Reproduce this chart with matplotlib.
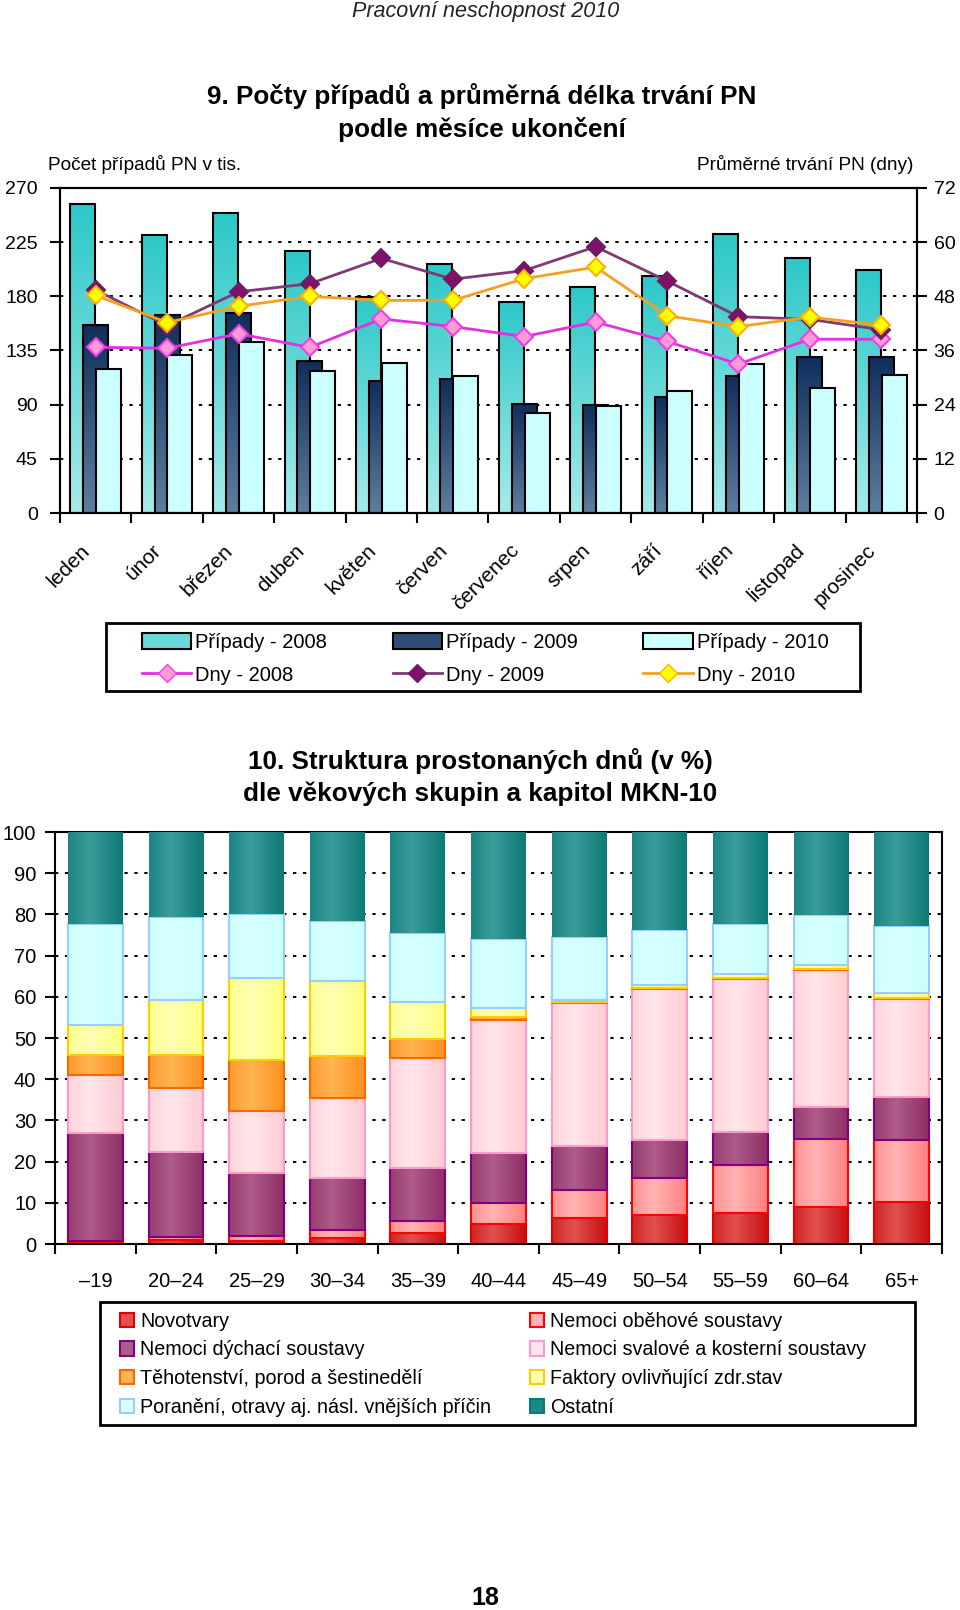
import numpy as np
import matplotlib
matplotlib.use('Agg')
import matplotlib.pyplot as plt
from matplotlib.patches import Patch, Rectangle
from matplotlib.lines import Line2D
from matplotlib.colors import to_rgb
from matplotlib.transforms import ScaledTranslation

plt.rcParams['font.family'] = ['Liberation Sans', 'DejaVu Sans']

# --- graf 9: počty případů (tis.) a průměrná délka trvání PN (dny) ---
months = ['leden', 'únor', 'březen', 'duben', 'květen', 'červen',
          'červenec', 'srpen', 'září', 'říjen', 'listopad', 'prosinec']
cases_2008 = [257, 231, 249.5, 218, 179.5, 207, 175.6, 187.8, 197, 231.7, 211.7, 201.7]
cases_2009 = [156, 164.5, 166, 126, 109.6, 111, 90.7, 90, 96, 113.8, 130, 130]
cases_2010 = [120, 131, 142, 118, 124.3, 113.5, 82.7, 88.5, 101, 123.8, 103.5, 115]
days_2008 = [36.7, 36.5, 39.7, 36.7, 43.0, 41.3, 39.1, 42.3, 38.0, 33.0, 38.5, 38.5]
days_2009 = [49.4, 41.5, 49.0, 50.8, 56.4, 51.8, 53.7, 59.0, 51.4, 43.5, 42.9, 40.6]
days_2010 = [48.2, 42.2, 45.8, 48.0, 47.1, 47.1, 51.9, 54.5, 43.7, 41.3, 43.4, 41.6]

# --- graf 10: struktura prostonaných dnů (%) ---
age_groups = ['–19', '20–24', '25–29', '30–34', '35–39', '40–44',
              '45–49', '50–54', '55–59', '60–64', '65+']
novotvary = [0.3, 1.0, 0.8, 1.4, 2.7, 4.8, 6.4, 7.1, 7.6, 9.1, 10.1]
obehove = [0.4, 0.8, 1.2, 1.9, 3.0, 5.1, 6.7, 8.8, 11.5, 16.5, 15.1]
dychaci = [26.2, 20.5, 15.2, 12.7, 12.7, 12.2, 10.6, 9.3, 8.1, 7.7, 10.6]
svalove = [14.2, 15.5, 15.0, 19.4, 26.8, 32.2, 34.8, 36.8, 37.2, 33.3, 23.7]
tehotenstvi = [4.7, 8.0, 12.4, 10.3, 4.6, 0.7, 0.2, 0.2, 0.2, 0.2, 0.2]
faktory = [7.4, 13.4, 20.0, 18.1, 9.0, 2.2, 0.6, 0.6, 0.9, 0.8, 1.3]
poraneni = [24.5, 20.2, 15.4, 14.7, 16.7, 16.8, 15.1, 13.4, 12.2, 12.2, 16.2]
ostatni = [22.3, 20.6, 20.0, 21.5, 24.5, 26.0, 25.6, 23.8, 22.3, 20.2, 22.8]


def gradient_bars(ax, bars, c_a, c_b, z, direction='v'):
    """Překryje sloupce gradientem (v = shora tmavší, h = okraje tmavší)."""
    a, b = np.array(to_rgb(c_a)), np.array(to_rgb(c_b))
    t = np.linspace(0, 1, 64)
    if direction == 'v':
        img = (b[None, :] * (1 - t[:, None]) + a[None, :] * t[:, None])[:, None, :]
    else:
        f = np.clip(1 - np.abs(t - 0.4) / 0.6, 0, 1)
        img = (a[None, :] * (1 - f[:, None]) + b[None, :] * f[:, None])[None, :, :]
    for p in bars:
        x0, y0, w, h = p.get_x(), p.get_y(), p.get_width(), p.get_height()
        if h <= 0:
            continue
        ax.imshow(img, extent=(x0, x0 + w, y0, y0 + h), origin='lower',
                  aspect='auto', interpolation='bilinear', zorder=z)


def style_grid(ax):
    ax.grid(axis='y', color='black', linewidth=1.4, linestyle=(0, (1.7, 3.4)), zorder=0.5)
    ax.grid(axis='x', visible=False)
    ax.set_axisbelow(True)
    for s in ax.spines.values():
        s.set_linewidth(1.5)


def box(fig, x0, y0, x1, y1):
    """Rámeček legendy v pixelech (od levého horního rohu)."""
    fig.patches.append(Rectangle((x0 / 960, 1 - y1 / H), (x1 - x0) / 960, (y1 - y0) / H,
                                 transform=fig.transFigure, fill=False,
                                 edgecolor='black', linewidth=2, zorder=1))


fig = plt.figure(figsize=(9.6, 16.1), dpi=100)
H = 1610.0

fig.text(486 / 960, 1 - 12 / H, 'Pracovní neschopnost 2010', ha='center', va='center',
         fontsize=15.5, style='italic', color='#222222')

# ================= graf 9 =================
ax = fig.add_axes([60 / 960, 1 - 513 / H, 857 / 960, 325 / H])
x = np.arange(len(months)) + 0.5
w = 0.35
series = [
    (cases_2008, -0.18, '#2EC8C8', '#A6EAEA', 2.0),
    (cases_2009, 0.0, '#102E5C', '#5E7E9E', 2.2),
    (cases_2010, 0.18, '#CCFFFF', '#CCFFFF', 2.4),
]
for vals, off, c_top, c_bot, z in series:
    bars = ax.bar(x + off, vals, w, facecolor='none', edgecolor='black', linewidth=1.5, zorder=z + 0.05)
    gradient_bars(ax, bars, c_top, c_bot, z)

ax.set_xlim(0, 12)
ax.set_ylim(0, 270)
ax.set_yticks(np.arange(0, 271, 45))
ax.set_xticks(x)
ax.set_xticklabels(months, rotation=45, ha='right', rotation_mode='anchor')
ax.set_xticks(np.arange(0, 13), minor=True)
ax.tick_params(axis='x', which='major', length=0, pad=20, labelsize=15)
ax.tick_params(axis='x', which='minor', length=7, width=1.5, direction='out')
ax.tick_params(axis='y', length=7, width=1.5, direction='out', pad=9, labelsize=14)
shift = ScaledTranslation(-15 / 100, 0, fig.dpi_scale_trans)
for lab in ax.get_xticklabels():
    lab.set_transform(lab.get_transform() + shift)
style_grid(ax)

ax2 = ax.twinx()
ax2.plot(x, days_2008, color='#E22FE2', lw=2, marker='D', ms=9, mfc='#FF9AD8', mec='#F040E0', mew=1.5, zorder=3)
ax2.plot(x, days_2009, color='#7E3A72', lw=2, marker='D', ms=9, mfc='#80106A', mec='#6A2060', mew=1.5, zorder=4)
ax2.plot(x, days_2010, color='#F5A020', lw=2, marker='D', ms=9, mfc='#FFFF00', mec='#FFB000', mew=1.5, zorder=5)
ax2.set_ylim(0, 72)
ax2.set_yticks(np.arange(0, 73, 12))
ax2.tick_params(axis='y', length=7, width=1.5, direction='out', pad=5, labelsize=14)
for s in ax2.spines.values():
    s.set_linewidth(1.5)

fig.text(48 / 960, 1 - 165 / H, 'Počet případů PN v tis.', ha='left', va='center', fontsize=13.7)
fig.text(913 / 960, 1 - 165 / H, 'Průměrné trvání PN (dny)', ha='right', va='center', fontsize=13.7)
fig.text(482 / 960, 1 - 96 / H, '9. Počty případů a průměrná délka trvání PN',
         ha='center', va='center', fontsize=18.8, fontweight='bold')
fig.text(482 / 960, 1 - 129 / H, 'podle měsíce ukončení',
         ha='center', va='center', fontsize=18.8, fontweight='bold')

h_top = [
    Patch(facecolor='#6AD8D8', edgecolor='black', linewidth=1.5),
    Line2D([], [], color='#E22FE2', lw=2, marker='D', ms=9, mfc='#FF9AD8', mec='#F040E0'),
    Patch(facecolor='#2E4E78', edgecolor='black', linewidth=1.5),
    Line2D([], [], color='#7E3A72', lw=2, marker='D', ms=9, mfc='#80106A', mec='#6A2060'),
    Patch(facecolor='#CCFFFF', edgecolor='black', linewidth=1.5),
    Line2D([], [], color='#F5A020', lw=2, marker='D', ms=9, mfc='#FFFF00', mec='#FFB000'),
]
l_top = ['Případy - 2008', 'Dny - 2008', 'Případy - 2009', 'Dny - 2009', 'Případy - 2010', 'Dny - 2010']
box(fig, 106, 623, 860, 691)
fig.legend(h_top, l_top, ncol=3, loc='upper left', bbox_to_anchor=(142 / 960, 1 - 633 / H),
           fontsize=14.5, frameon=False, handlelength=2.45, handleheight=0.85,
           handletextpad=0.2, columnspacing=3.25, labelspacing=0.69, borderpad=0,
           borderaxespad=0)

# ================= graf 10 =================
bx = fig.add_axes([55 / 960, 1 - 1244 / H, 887 / 960, 412 / H])
xa = np.arange(len(age_groups))
cats = [
    (novotvary, 'Novotvary', '#C81010', '#E25050', '#E00000'),
    (obehove, 'Nemoci oběhové soustavy', '#FF8080', '#FFB4B4', '#FF0000'),
    (dychaci, 'Nemoci dýchací soustavy', '#8E2E66', '#AE5C88', '#800080'),
    (svalove, 'Nemoci svalové a kosterní soustavy', '#FFCCD2', '#FFE6EA', '#FF99CC'),
    (tehotenstvi, 'Těhotenství, porod a šestinedělí', '#FF9020', '#FFB452', '#FF6600'),
    (faktory, 'Faktory ovlivňující zdr.stav', '#FFFF80', '#FFFFB4', '#FFCC00'),
    (poraneni, 'Poranění, otravy aj. násl. vnějších příčin', '#CCFFFF', '#D8FFFF', '#99CCFF'),
    (ostatni, 'Ostatní', '#0C7A76', '#3C9C9A', '#0C7A76'),
]
bottom = np.zeros(len(age_groups))
handles = {}
for i, (vals, name, c_edge_fill, c_mid, c_line) in enumerate(cats):
    bars = bx.bar(xa, vals, 0.68, bottom=bottom, facecolor='none', edgecolor=c_line,
                  linewidth=1.5 if name != 'Ostatní' else 0, zorder=2 + i * 0.1 + 0.05)
    gradient_bars(bx, bars, c_edge_fill, c_mid, 2 + i * 0.1, direction='h')
    bottom += np.array(vals)
    handles[name] = Patch(facecolor=c_mid if name != 'Ostatní' else '#1A8A86',
                          edgecolor=c_line, linewidth=1.5)

bx.set_xlim(-0.5, 10.5)
bx.set_ylim(0, 100)
bx.set_yticks(np.arange(0, 101, 10))
bx.set_xticks(xa)
bx.set_xticklabels(age_groups)
bx.set_xticks(np.arange(-0.5, 11, 1), minor=True)
bx.tick_params(axis='x', which='major', length=0, pad=20, labelsize=14.5)
bx.tick_params(axis='x', which='minor', length=7, width=1.5, direction='out')
bx.tick_params(axis='y', length=7, width=1.5, direction='out', pad=6.5, labelsize=14.5)
style_grid(bx)

fig.text(480 / 960, 1 - 761 / H, '10. Struktura prostonaných dnů (v %)',
         ha='center', va='center', fontsize=18.8, fontweight='bold')
fig.text(480 / 960, 1 - 794 / H, 'dle věkových skupin a kapitol MKN-10',
         ha='center', va='center', fontsize=18.8, fontweight='bold')

order = ['Novotvary', 'Nemoci dýchací soustavy', 'Těhotenství, porod a šestinedělí',
         'Poranění, otravy aj. násl. vnějších příčin', 'Nemoci oběhové soustavy',
         'Nemoci svalové a kosterní soustavy', 'Faktory ovlivňující zdr.stav', 'Ostatní']
box(fig, 100, 1302, 915, 1425)
fig.legend([handles[n] for n in order], order, ncol=2, loc='upper left',
           bbox_to_anchor=(120 / 960, 1 - 1311.5 / H), fontsize=14.2, frameon=False,
           handlelength=0.73, handleheight=0.73, handletextpad=0.3, columnspacing=1.95,
           labelspacing=0.5, borderpad=0, borderaxespad=0)

fig.text(485 / 960, 1 - 1598 / H, '18', ha='center', va='center', fontsize=18,
         fontweight='bold')

fig.savefig('out.png', dpi=100)
